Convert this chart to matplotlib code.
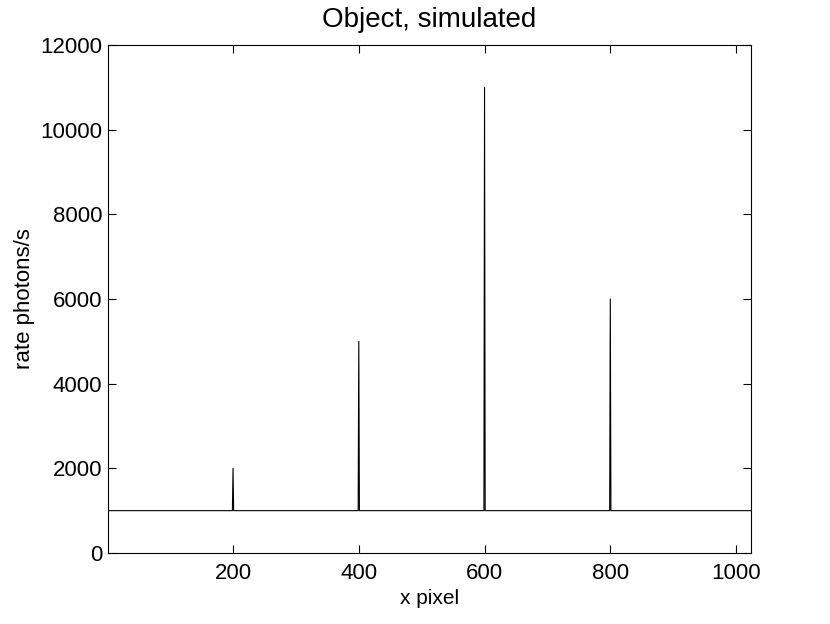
import numpy as np
import matplotlib
matplotlib.use('Agg')
import matplotlib.pyplot as plt

# simulated object: flat background plus single-pixel emission lines
n_pixels = 1024
background = 1000
peak_pixels = [200, 400, 600, 800]
peak_rates = [2000, 5000, 11000, 6000]

x_ticks = [200, 400, 600, 800, 1000]
y_ticks = [0, 2000, 4000, 6000, 8000, 10000, 12000]

pixels = np.arange(1, n_pixels + 1)
rate = np.full(n_pixels, background, dtype=float)
for p, r in zip(peak_pixels, peak_rates):
    rate[p - 1] = r

plt.rcParams['font.family'] = ['Liberation Sans', 'DejaVu Sans']

fig = plt.figure(figsize=(8.3, 6.24), dpi=100)
ax = fig.add_axes([0.130, 0.1138, 0.775, 0.8142])
ax.plot(pixels, rate, color='black', linewidth=0.8)

ax.set_xlim(1, n_pixels)
ax.set_ylim(0, 12000)
ax.set_xticks(x_ticks)
ax.set_yticks(y_ticks)
ax.tick_params(direction='in', top=True, right=True, length=6, width=0.8,
               labelsize=16)
ax.tick_params(axis='x', pad=7)
ax.tick_params(axis='y', pad=4)
for s in ax.spines.values():
    s.set_linewidth(0.8)

ax.set_title('Object, simulated', fontsize=20, pad=13)
ax.set_xlabel('x pixel', fontsize=15, labelpad=4)
ax.set_ylabel('rate photons/s', fontsize=16, labelpad=4)

fig.savefig('out.png', dpi=100)
